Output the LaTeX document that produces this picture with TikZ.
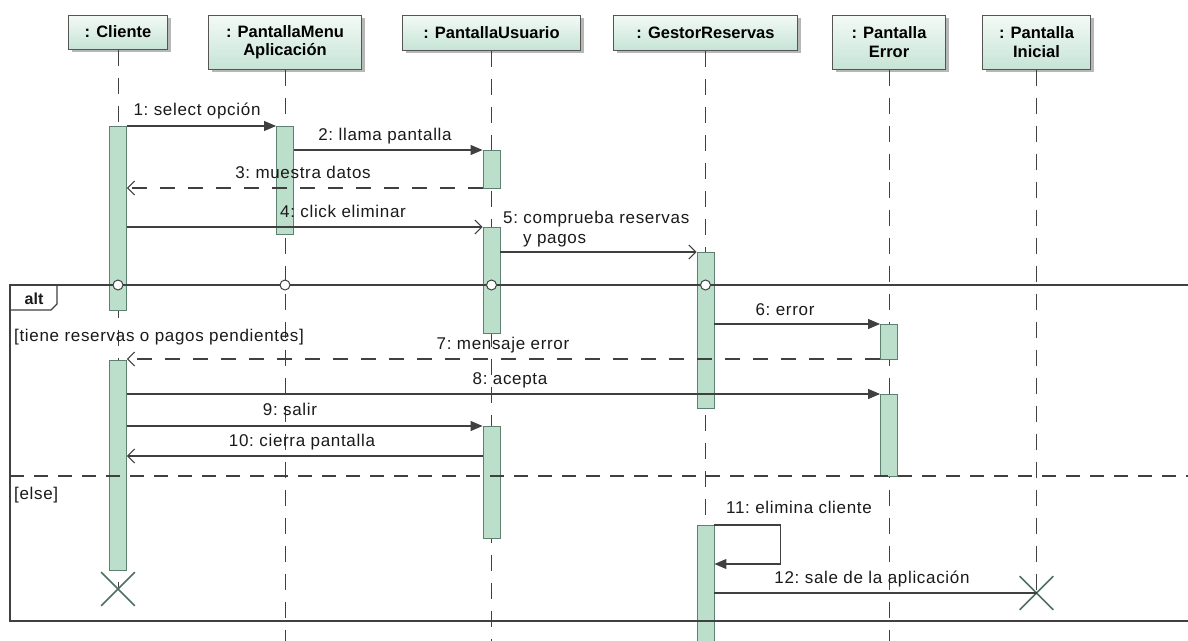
\documentclass[tikz,border=0pt]{standalone}
\usepackage{fontspec}
\setmainfont{Liberation Sans}
\newfontfamily\msgfont[LetterSpace=4]{Liberation Sans}
\usetikzlibrary{arrows.meta,shapes.misc,shadows}

\definecolor{headline}{HTML}{555555}
\definecolor{headtop}{HTML}{F4FAF7}
\definecolor{headbot}{HTML}{C6E4D6}
\definecolor{barfill}{HTML}{BCDFCB}
\definecolor{bardraw}{HTML}{5E8070}
\definecolor{linecol}{HTML}{404040}
\definecolor{crosscol}{HTML}{4F6F62}
\definecolor{txt}{HTML}{1A1A1A}

\begin{document}
\begin{tikzpicture}[x=1pt,y=-1pt,
  head/.style={draw=headline, line width=1pt, top color=headtop, bottom color=headbot,
    drop shadow={shadow xshift=3pt, shadow yshift=-3pt, fill=black!40, opacity=0.7},
    font=\bfseries\fontsize{16.5}{18.5}\selectfont, align=center, text=black, inner sep=2pt},
  life/.style={draw=linecol, line width=1pt, dash pattern=on 16pt off 12pt},
  bar/.style={draw=bardraw, fill=barfill, line width=0.9pt, minimum width=17, inner sep=0, anchor=north},
  msg/.style={draw=linecol, line width=1.1pt},
  sync/.style={-{Triangle[length=12pt,width=10pt]}},
  reply/.style={-{Straight Barb[length=7pt,width=14pt,line width=1pt]}},
  back/.style={dash pattern=on 15pt off 13pt},
  lbl/.style={font=\msgfont\fontsize{17}{19}\selectfont, text=txt, inner sep=0, anchor=base},
  lblw/.style={lbl, anchor=base west},
  frame/.style={draw=linecol, line width=1.3pt},
  circ/.style={circle, draw=linecol, fill=white, line width=1pt, minimum size=10, inner sep=0},
  destroy/.style={cross out, draw=crosscol, line width=1.6pt, minimum size=32, inner sep=0}
]
\clip (0,0) rectangle (1188,640);
\fill[white] (0,0) rectangle (1188,640);

% object headers
\node[head, minimum width=99,  minimum height=34] (hC) at (118,32)    {: Cliente};
\node[head, minimum width=153, minimum height=54] (hM) at (285,42)    {: PantallaMenu\\Aplicación};
\node[head, minimum width=178, minimum height=35] (hU) at (491.5,32.5) {: PantallaUsuario};
\node[head, minimum width=184, minimum height=35] (hG) at (705.5,32.5) {: GestorReservas};
\node[head, minimum width=113, minimum height=54] (hE) at (889,42)    {: Pantalla\\Error};
\node[head, minimum width=108, minimum height=54] (hI) at (1036.5,42) {: Pantalla\\Inicial};

% lifeline ends
\coordinate (dC) at (118,589);
\coordinate (dI) at (1036.5,593);
\coordinate (eM) at (285,645);
\coordinate (eU) at (491.5,645);
\coordinate (eG) at (705.5,645);
\coordinate (eE) at (889,645);

% lifelines
\draw[life] (hC.south) -- (dC);
\draw[life] (hM.south) -- (eM);
\draw[life] (hU.south) -- (eU);
\draw[life] (hG.south) -- (eG);
\draw[life] (hE.south) -- (eE);
\draw[life] (hI.south) -- (dI);

% destruction marks
\node[destroy] (xC) at (dC) {};
\node[destroy] (xI) at (dI) {};

% activation bars
\node[bar, minimum height=184] (c1) at (118,126) {};
\node[bar, minimum height=210] (c2) at (118,360) {};
\node[bar, minimum height=108] (m1) at (285,126) {};
\node[bar, minimum height=38]  (u1) at (491.5,150) {};
\node[bar, minimum height=106] (u2) at (491.5,227) {};
\node[bar, minimum height=112] (u3) at (491.5,426) {};
\node[bar, minimum height=156] (g1) at (705.5,252) {};
\node[bar, minimum height=130] (g2) at (705.5,525) {};
\node[bar, minimum height=35]  (e1) at (889,324) {};
\node[bar, minimum height=82]  (e2) at (889,394) {};

% message levels
\coordinate (y1) at (0,126);
\coordinate (y2) at (0,150);
\coordinate (y3) at (0,188);
\coordinate (y4) at (0,227);
\coordinate (y5) at (0,252);
\coordinate (y6) at (0,324);
\coordinate (y7) at (0,359);
\coordinate (y8) at (0,394);
\coordinate (y9) at (0,426);
\coordinate (y10) at (0,456);
\coordinate (y11) at (0,525);
\coordinate (y11b) at (0,564);
\coordinate (y12) at (0,593);

% combined fragment
\draw[frame] (1195,285) -- (10,285) -- (10,621) -- (1195,621);
\draw[frame] (10,310) -- (51,310) -- (57,304) -- (57,285);
\node[lbl, font=\bfseries\fontsize{16}{18}\selectfont] (alt) at (34,304) {alt};
\draw[frame, dash pattern=on 14pt off 10pt] (10,476) -- (1195,476);
\node[circ] (k1) at (118,285) {};
\node[circ] (k2) at (285,285) {};
\node[circ] (k3) at (491.5,285) {};
\node[circ] (k4) at (705.5,285) {};
\node[lblw] (g1t) at (14,341) {[tiene reservas o pagos pendientes]};
\node[lblw] (g2t) at (14,499) {[else]};

% messages
\draw[msg, sync]  (c1.east |- y1) -- (m1.west |- y1);
\draw[msg, sync]  (m1.east |- y2) -- (u1.west |- y2);
\draw[msg, reply, back] (u1.west |- y3) -- (c1.east |- y3);
\draw[msg, reply] (c1.east |- y4) -- (u2.west |- y4);
\draw[msg, reply] (u2.east |- y5) -- (g1.west |- y5);
\draw[msg, sync]  (g1.east |- y6) -- (e1.west |- y6);
\draw[msg, reply, back] (e1.west |- y7) -- (c2.east |- y7);
\draw[msg, sync]  (c2.east |- y8) -- (e2.west |- y8);
\draw[msg, sync]  (c2.east |- y9) -- (u3.west |- y9);
\draw[msg, reply] (u3.west |- y10) -- (c2.east |- y10);
\draw[msg, sync]  (g2.east |- y11) -- ++(66,0) |- (g2.east |- y11b);
\draw[msg] (g2.east |- y12) -- (xI.center);

% message labels
\node[lbl] (l1) at (197,115) {1:\ select opción};
\node[lbl] (l2) at (385,140) {2:\ llama pantalla};
\node[lbl] (l3) at (303,178) {3:\ muestra datos};
\node[lbl] (l4) at (343,217) {4:\ click eliminar};
\node[lblw] (l5a) at (503,223) {5:\ comprueba reservas};
\node[lblw] (l5b) at (523,243) {y pagos};
\node[lbl] (l6) at (785,315) {6:\ error};
\node[lbl] (l7) at (503,349) {7:\ mensaje error};
\node[lbl] (l8) at (510,384) {8:\ acepta};
\node[lbl] (l9) at (290,415) {9:\ salir};
\node[lbl] (l10) at (302,446) {10:\ cierra pantalla};
\node[lbl] (l11) at (799,513) {11:\ elimina cliente};
\node[lbl] (l12) at (872,583) {12:\ sale de la aplicación};
\end{tikzpicture}
\end{document}
